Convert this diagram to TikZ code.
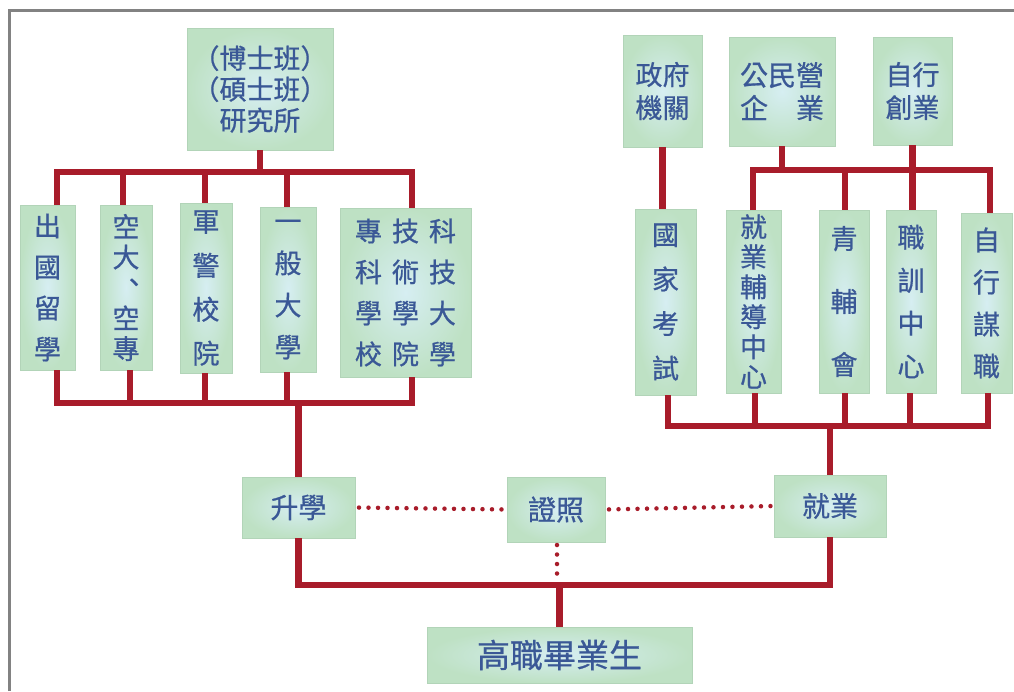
\documentclass[tikz,border=0pt]{standalone}
\usepackage{fontspec}
\newfontfamily\cjk{Noto Sans CJK TC}[FakeBold=0.7]
\definecolor{boxout}{RGB}{190,225,196}
\definecolor{boxin}{RGB}{214,238,242}
\definecolor{boxedge}{RGB}{178,212,184}
\definecolor{txt}{RGB}{58,88,150}
\definecolor{conred}{RGB}{168,28,42}
\definecolor{framecol}{RGB}{130,130,130}
\newcommand\fs[2]{\cjk\fontsize{#1}{#2}\selectfont}
\newcommand\gp{\hspace{10pt}}
\newcommand\cm{\makebox[1em][l]{\hspace{0.3em}\raisebox{0.2em}{、}}}
\begin{document}
\begin{tikzpicture}[x=1pt,y=-1pt,
  box/.style={rectangle, inner sep=0pt, outer sep=0pt, shading=radial,
    inner color=boxin, outer color=boxout, draw=boxedge, line width=0.6pt,
    text=txt, align=center},
  conn/.style={draw=conred, line width=6.5pt, line join=miter},
  dots/.style={draw=conred, line width=4.5pt, line cap=round,
    dash pattern=on 0pt off 9.5pt},
  frameline/.style={draw=framecol, line width=3pt}]
\useasboundingbox (0,0) rectangle (1014,691);
\draw[frameline] (9,691) -- (9,10) -- (1014,10);

% left upper
\node[box, minimum width=146, minimum height=122, font=\fs{27}{31}] (yjs) at (260,89) {（博士班）\\（碩士班）\\研究所};
\node[box, minimum width=55, minimum height=165, font=\fs{27}{41}] (cg) at (47.5,287.5) {出\\國\\留\\學};
\node[box, minimum width=52, minimum height=165, font=\fs{27}{30.5}] (kd) at (126,287.5) {空\\大\\\cm\\空\\專};
\node[box, minimum width=52, minimum height=170, font=\fs{27}{44}] (jj) at (206,288) {軍\\警\\校\\院};
\node[box, minimum width=56, minimum height=165, font=\fs{27}{42}] (yb) at (288,289.5) {一\\般\\大\\學};
\node[box, minimum width=131, minimum height=169, font=\fs{27}{41}] (kj) at (405.5,292.5) {專\gp 技\gp 科\\科\gp 術\gp 技\\學\gp 學\gp 大\\校\gp 院\gp 學};

% right upper
\node[box, minimum width=79, minimum height=112, font=\fs{27}{33}] (zf) at (662.5,91) {政府\\機關};
\node[box, minimum width=106, minimum height=109, font=\fs{28}{33}] (gm) at (782,91.5) {公民營\\企　業};
\node[box, minimum width=79, minimum height=108, font=\fs{27}{33}] (zx) at (912.5,91) {自行\\創業};
\node[box, minimum width=61, minimum height=186, font=\fs{27}{44.5}] (gk) at (665.5,302) {國\\家\\考\\試};
\node[box, minimum width=55, minimum height=183, font=\fs{27}{30}] (jf) at (753.5,301.5) {就\\業\\輔\\導\\中\\心};
\node[box, minimum width=50, minimum height=183, font=\fs{27}{63}] (qf) at (844,301.5) {青\\輔\\會};
\node[box, minimum width=50, minimum height=183, font=\fs{27}{43}] (zxz) at (911,301.5) {職\\訓\\中\\心};
\node[box, minimum width=51, minimum height=180, font=\fs{27}{42}] (zm) at (986.5,303) {自\\行\\謀\\職};

% bottom
\node[box, minimum width=113, minimum height=61, font=\fs{28}{33}] (sx) at (298.5,507.5) {升學};
\node[box, minimum width=98, minimum height=65, font=\fs{28}{33}] (zz) at (556,509.5) {證照};
\node[box, minimum width=112, minimum height=62, font=\fs{28}{33}] (jy) at (830,506) {就業};
\node[box, minimum width=265, minimum height=56, font=\fs{33}{36}] (gz) at (559.5,655) {高職畢業生};

% bus coordinates
\coordinate (a1) at (57,172);  \coordinate (a2) at (123,172);
\coordinate (a3) at (205,172); \coordinate (a4) at (287,172);
\coordinate (a5) at (412,172);
\coordinate (b1) at (57,403);  \coordinate (b2) at (130,403);
\coordinate (b3) at (205,403); \coordinate (b4) at (287,403);
\coordinate (b5) at (412,403);
\coordinate (c1) at (753,170); \coordinate (c2) at (845,170);
\coordinate (c4) at (990,170);
\coordinate (d1) at (668,426); \coordinate (d2) at (755,426);
\coordinate (d3) at (845,426); \coordinate (d4) at (910,426);
\coordinate (d5) at (988,426);
\coordinate (e) at (0,585);
\coordinate (zd) at (557,578);

% left connectors
\draw[conn] (yjs.south) -- (yjs.south |- a1);
\draw[conn] (a1 |- cg.north) -- (a1) -- (a5) -- (a5 |- kj.north);
\draw[conn] (a2) -- (a2 |- kd.north);
\draw[conn] (a3) -- (a3 |- jj.north);
\draw[conn] (a4) -- (a4 |- yb.north);
\draw[conn] (b1 |- cg.south) -- (b1) -- (b5) -- (b5 |- kj.south);
\draw[conn] (b2) -- (b2 |- kd.south);
\draw[conn] (b3) -- (b3 |- jj.south);
\draw[conn] (b4) -- (b4 |- yb.south);
\draw[conn] (sx.north |- b1) -- (sx.north);

% right connectors
\draw[conn] (zf.south) -- (zf.south |- gk.north);
\draw[conn] (gm.south) -- (gm.south |- c1);
\draw[conn] (zx.south) -- (zx.south |- zxz.north);
\draw[conn] (c1 |- jf.north) -- (c1) -- (c4) -- (c4 |- zm.north);
\draw[conn] (c2) -- (c2 |- qf.north);
\draw[conn] (d1 |- gk.south) -- (d1) -- (d5) -- (d5 |- zm.south);
\draw[conn] (d2) -- (d2 |- jf.south);
\draw[conn] (d3) -- (d3 |- qf.south);
\draw[conn] (d4) -- (d4 |- zxz.south);
\draw[conn] (jy.north |- d1) -- (jy.north);

% bottom connectors
\draw[conn] (sx.south) -- (sx.south |- e) -- (jy.south |- e) -- (jy.south);
\draw[conn] (gz.north |- e) -- (gz.north);

% dotted links
\draw[dots, shorten <=4pt, shorten >=3pt] (sx.east) -- (zz.west);
\draw[dots, shorten <=4pt, shorten >=3pt] (zz.east) -- (jy.west);
\draw[dots, shorten <=3pt] (zz.south -| zd) -- (zd);
\end{tikzpicture}
\end{document}
